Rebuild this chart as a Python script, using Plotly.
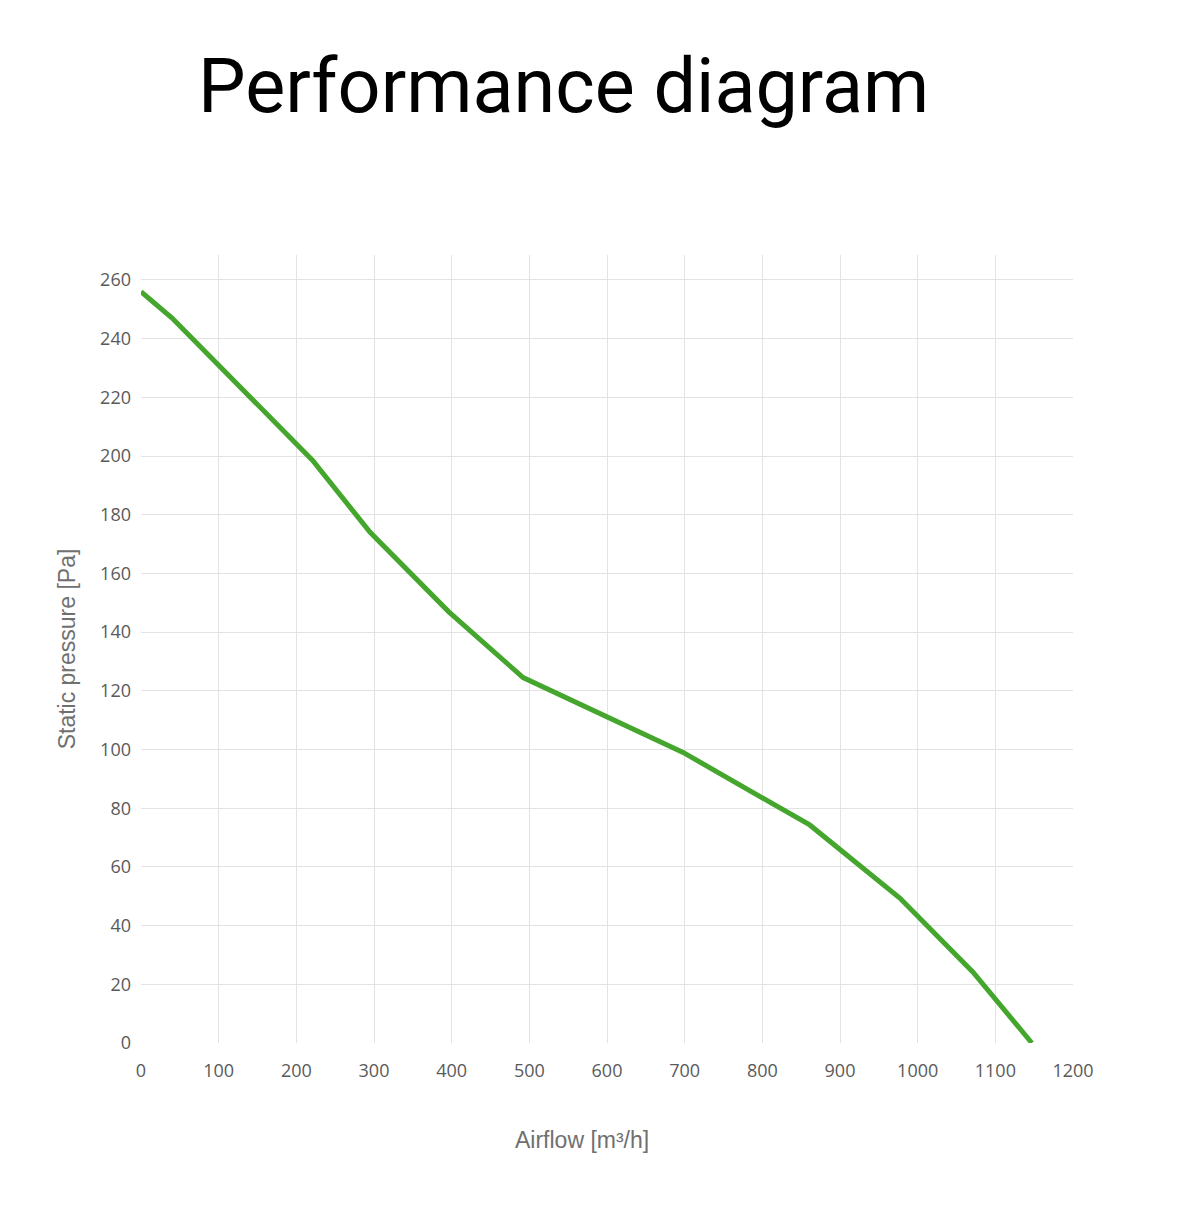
import plotly.graph_objects as go

airflow = [0, 40, 221, 295, 396, 492, 698, 861, 977, 1071, 1147]
pressure = [256, 247, 198.5, 174, 147, 124.5, 99, 74.3, 49.4, 24.2, 0]

x_ticks = list(range(0, 1201, 100))
y_ticks = list(range(0, 261, 20))

W, H = 1194, 1206

fig = go.Figure()
fig.add_trace(go.Scatter(
    x=airflow, y=pressure, mode="lines",
    line=dict(color="#45a62d", width=5),
    hoverinfo="x+y", showlegend=False,
))

fig.update_layout(
    width=W, height=H,
    margin=dict(l=133, r=129, t=247, b=171, pad=0),
    paper_bgcolor="white", plot_bgcolor="white",
    title=dict(
        text="Performance diagram",
        font=dict(family="Roboto", size=75.5, color="#000000"),
        xref="container", yref="container",
        x=190 / W, xanchor="left",
        y=1 - 78 / H, yanchor="middle",
    ),
    xaxis=dict(
        range=[0, 1200], tickvals=x_ticks,
        showgrid=True, gridcolor="#e3e3e3", gridwidth=1.2,
        zeroline=False, showline=False,
        tickfont=dict(family="Open Sans", size=18, color="#5a5a5a"),
        ticklabelstandoff=15,
    ),
    yaxis=dict(
        range=[0, 268.5], tickvals=y_ticks,
        showgrid=True, gridcolor="#e3e3e3", gridwidth=1.2,
        zeroline=False, showline=False,
        tickfont=dict(family="Open Sans", size=18, color="#5a5a5a"),
        ticklabelstandoff=9,
        title=dict(text="Static pressure [Pa]", standoff=18,
                   font=dict(family="Liberation Sans", size=23, color="#707070")),
    ),
    annotations=[dict(
        text="Airflow [m³/h]", showarrow=False,
        xref="paper", yref="paper",
        x=(581.5 - 141) / 932, y=(1043 - 1140) / 788,
        xanchor="center", yanchor="middle",
        font=dict(family="Liberation Sans", size=23, color="#707070"),
    )],
)

fig.write_html("out.html")
